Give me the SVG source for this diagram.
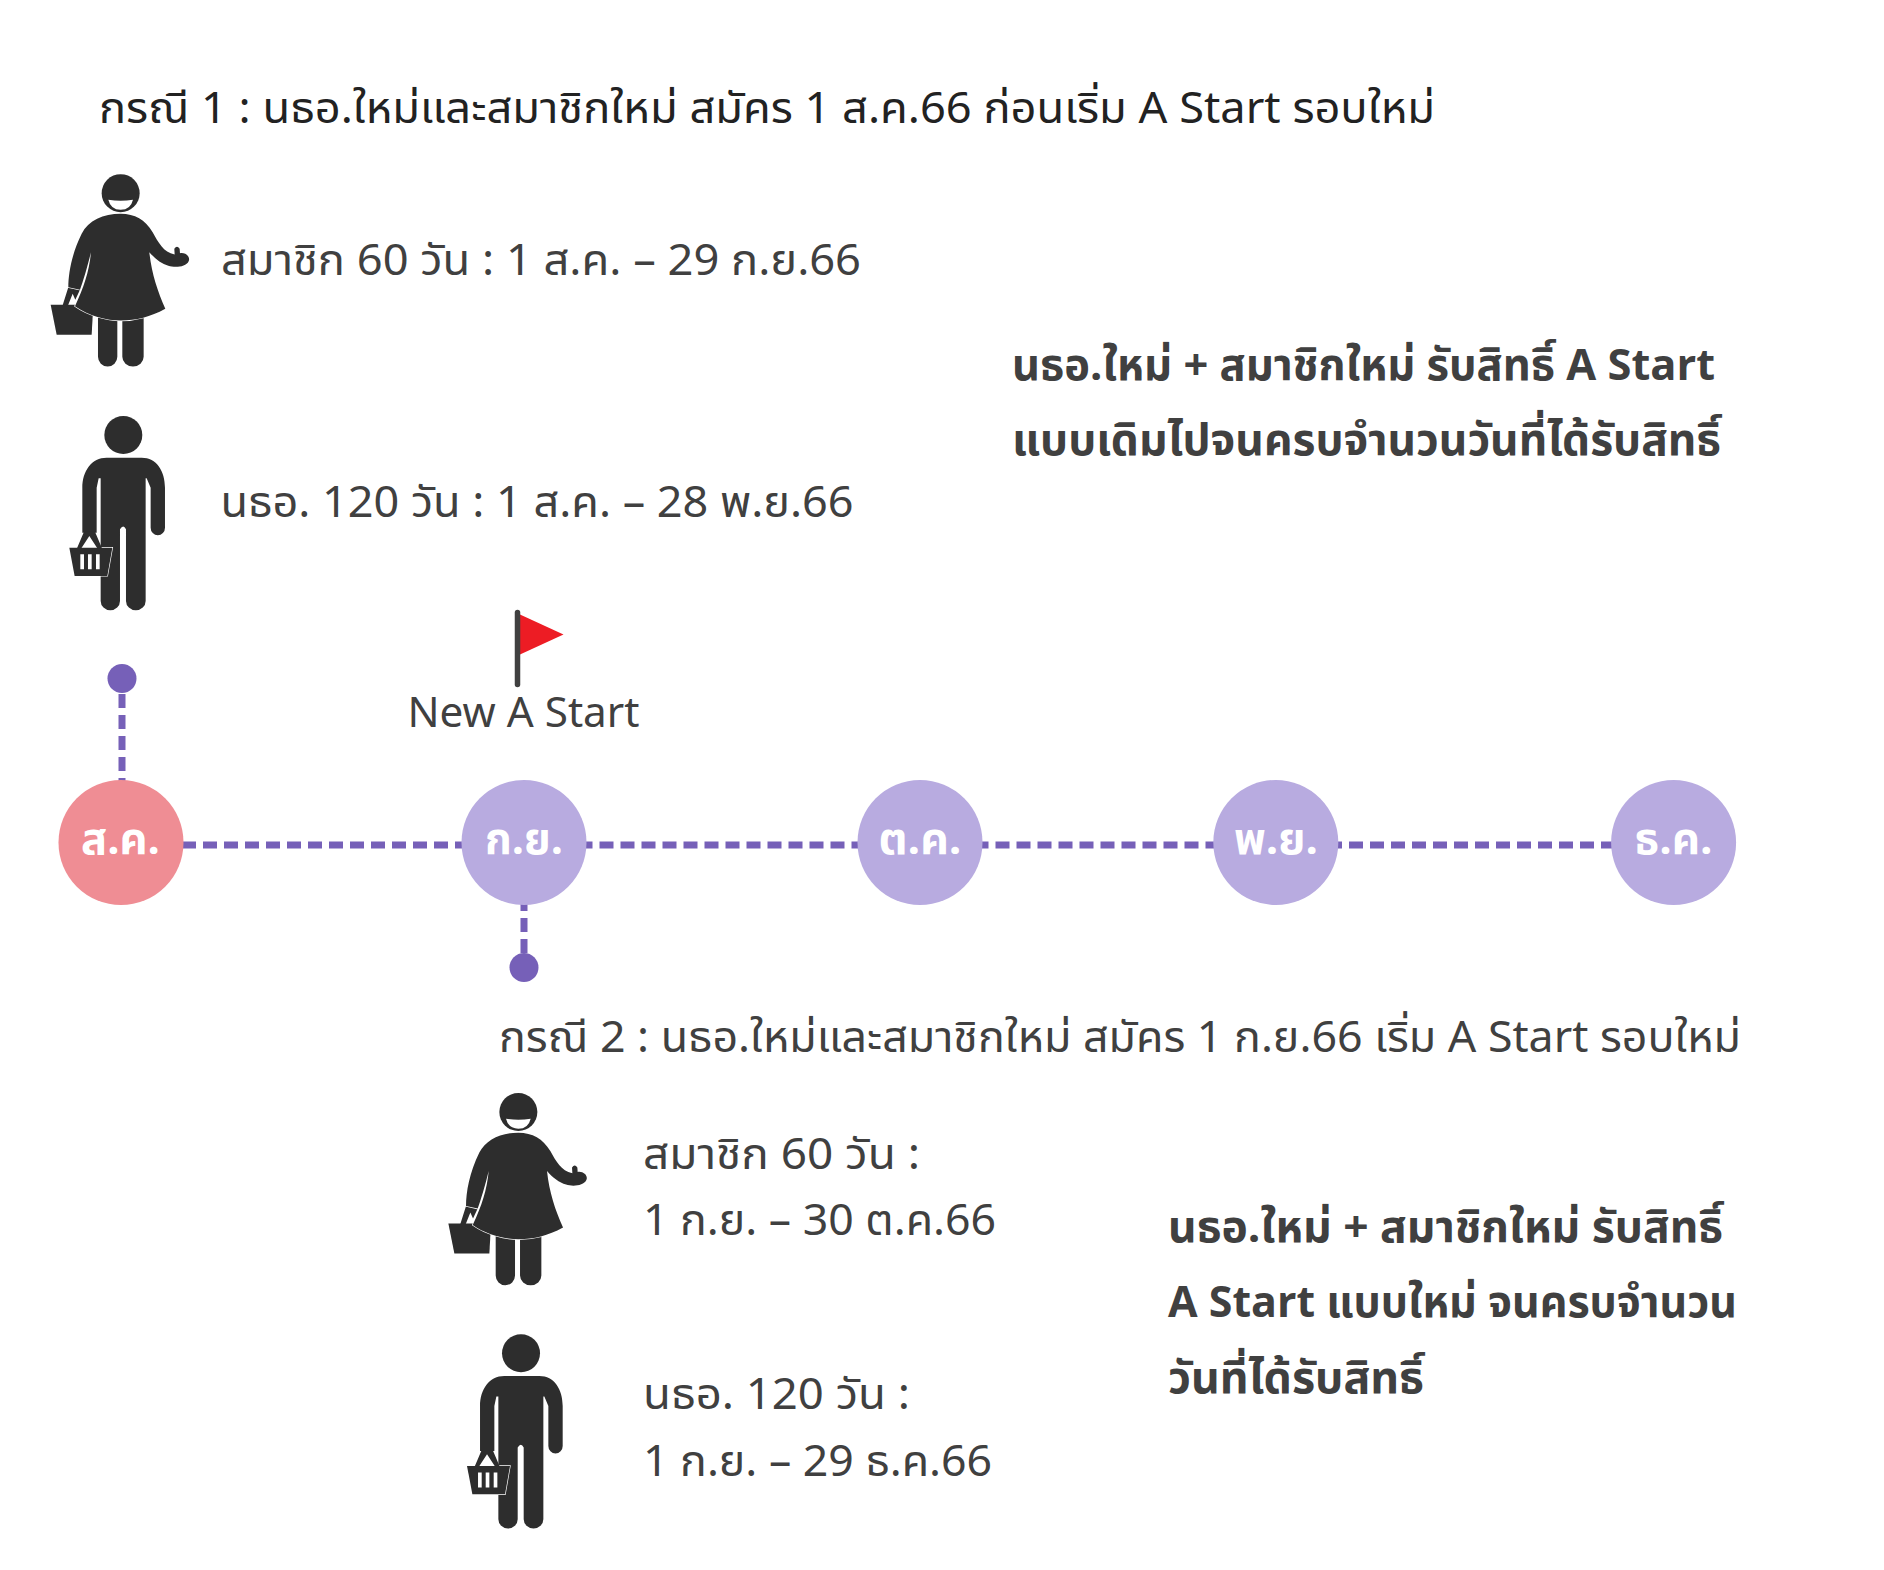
<svg xmlns="http://www.w3.org/2000/svg" xmlns:xlink="http://www.w3.org/1999/xlink" width="1884" height="1570" viewBox="0 0 1884 1570">
<style>
text{font-family:"Noto Sans Thai","Noto Sans Thai Looped","Noto Sans",sans-serif;font-size:43.500px;fill:#404040}
.h{fill:#222}
.b{font-weight:700}
.m{font-weight:700;fill:#fff;text-anchor:middle}
.l{font-size:42px}
.ink{fill:#2d2d2d}
.dash{stroke:#7660b8;stroke-width:7;stroke-dasharray:14 7;fill:none}
.dot{fill:#7660b8}
</style>
<defs>
<g id="woman" transform="scale(.3333)">
<path class="ink" d="M152,493L280,493L275,583L170,583Z"/>
<path class="ink" d="M205,440L240,448L226,478L218,460L203,497L187,497Z"/>
<path class="ink" d="M294,530H352V649a29,29 0 0 1-58,0ZM367,530H431V649a32,29 0 0 1-64,0Z"/>
<path class="ink" stroke="#fff" stroke-width="4" paint-order="stroke" d="M362,220C405,220 435,238 458,275C475,305 490,335 524,342L523,325Q531,312 539,325L540,338C558,335 572,350 566,362C558,380 525,382 505,376C485,370 465,355 448,335C455,400 472,450 496,505C450,530 410,540 362,540C320,540 265,525 225,497C252,440 268,390 273,335C262,380 250,420 240,448L205,440C205,400 215,340 245,280C265,240 310,220 362,220Z"/>
<circle class="ink" cx="362" cy="158" r="57"/>
<path fill="#fff" d="M325,178Q362,184 399,178Q392,208 362,208Q332,208 325,178Z"/>
</g>
<g id="man" transform="scale(.3333)">
<circle class="ink" cx="370" cy="882" r="57"/>
<path class="ink" d="M320,950H425C470,950 495,990 495,1040V1160a21.500,23 0 0 1-43,0V1040L440,1012H437V1380a29.500,28 0 0 1-59,0V1165Q370,1148 360,1165V1380a29,28 0 0 1-58,0V1012H296L290,1040V1175L247,1175V1040C247,990 275,950 320,950Z"/>
<path class="ink" stroke="#fff" stroke-width="4" paint-order="stroke" d="M208,1220H337L322,1305H224Z"/>
<path class="ink" d="M252,1172H285L306,1222H292L268,1185L244,1222H231Z"/>
<path fill="#fff" d="M241,1240H252V1285H241ZM264,1240H275V1285H264ZM288,1240H299V1285H288Z"/>
</g>
</defs>
<g id="connectors">
<path class="dash" d="M182,845H470"/>
<path class="dash" d="M578.500,845H866"/>
<path class="dash" d="M974.500,845H1222"/>
<path class="dash" d="M1328,845H1620"/>
<path class="dash" d="M122,694V785"/>
<path class="dash" d="M524,897V954"/>
</g>
<g id="case1-title"><text class="h" x="99" y="123" textLength="1336" lengthAdjust="spacingAndGlyphs">กรณี 1 : นธอ.ใหม่และสมาชิกใหม่ สมัคร 1 ส.ค.66 ก่อนเริ่ม A Start รอบใหม่</text></g>
<g id="case1-member"><use xlink:href="#woman" transform="translate(0,140.500)"/><text x="221" y="275" textLength="640" lengthAdjust="spacingAndGlyphs">สมาชิก 60 วัน : 1 ส.ค. – 29 ก.ย.66</text></g>
<g id="case1-abo"><use xlink:href="#man" transform="translate(0,141)"/><text x="220.500" y="517" textLength="633" lengthAdjust="spacingAndGlyphs">นธอ. 120 วัน : 1 ส.ค. – 28 พ.ย.66</text></g>
<g id="case1-note"><text class="b" x="1012" y="380" textLength="703" lengthAdjust="spacingAndGlyphs">นธอ.ใหม่ + สมาชิกใหม่ รับสิทธิ์ A Start</text><text class="b" x="1012" y="455" textLength="709" lengthAdjust="spacingAndGlyphs">แบบเดิมไปจนครบจำนวนวันที่ได้รับสิทธิ์</text></g>
<g id="flag"><path fill="#ed1c24" d="M520,614.500L563.500,634.500L520,654.500Z"/><path d="M517.500,612.500V684.500" stroke="#404040" stroke-width="5.500" stroke-linecap="round"/><text class="l" x="407.500" y="727" textLength="232" lengthAdjust="spacingAndGlyphs">New A Start</text></g>
<g id="dot-aug"><circle class="dot" cx="122" cy="678.500" r="14.500"/></g>
<g id="dot-sep"><circle class="dot" cx="524" cy="967.500" r="14.500"/></g>
<g id="aug"><circle cx="121" cy="842.500" r="62.500" fill="#ef8d94"/><text class="m" x="120.500" y="854" textLength="79" lengthAdjust="spacingAndGlyphs">ส.ค.</text></g>
<g id="sep"><circle cx="524" cy="842.500" r="62.500" fill="#b8abe0"/><text class="m" x="524" y="854" textLength="78" lengthAdjust="spacingAndGlyphs">ก.ย.</text></g>
<g id="oct"><circle cx="920" cy="842.500" r="62.500" fill="#b8abe0"/><text class="m" x="920" y="854" textLength="83" lengthAdjust="spacingAndGlyphs">ต.ค.</text></g>
<g id="nov"><circle cx="1275.800" cy="842.500" r="62.500" fill="#b8abe0"/><text class="m" x="1276" y="854" textLength="84" lengthAdjust="spacingAndGlyphs">พ.ย.</text></g>
<g id="dec"><circle cx="1673.600" cy="842.500" r="62.500" fill="#b8abe0"/><text class="m" x="1673.600" y="854" textLength="78" lengthAdjust="spacingAndGlyphs">ธ.ค.</text></g>
<g id="case2-title"><text x="499" y="1052" textLength="1242" lengthAdjust="spacingAndGlyphs">กรณี 2 : นธอ.ใหม่และสมาชิกใหม่ สมัคร 1 ก.ย.66 เริ่ม A Start รอบใหม่</text></g>
<g id="case2-member"><use xlink:href="#woman" transform="translate(397.700,1059.300)"/><text x="643" y="1169" textLength="277" lengthAdjust="spacingAndGlyphs">สมาชิก 60 วัน :</text><text x="643" y="1235" textLength="353" lengthAdjust="spacingAndGlyphs">1 ก.ย. – 30 ต.ค.66</text></g>
<g id="case2-abo"><use xlink:href="#man" transform="translate(397.700,1059.300)"/><text x="643" y="1409" textLength="267" lengthAdjust="spacingAndGlyphs">นธอ. 120 วัน :</text><text x="643" y="1476" textLength="349" lengthAdjust="spacingAndGlyphs">1 ก.ย. – 29 ธ.ค.66</text></g>
<g id="case2-note"><text class="b" x="1168" y="1242" textLength="555" lengthAdjust="spacingAndGlyphs">นธอ.ใหม่ + สมาชิกใหม่ รับสิทธิ์</text><text class="b" x="1168" y="1317" textLength="569" lengthAdjust="spacingAndGlyphs">A Start แบบใหม่ จนครบจำนวน</text><text class="b" x="1168" y="1393" textLength="256" lengthAdjust="spacingAndGlyphs">วันที่ได้รับสิทธิ์</text></g>
</svg>
